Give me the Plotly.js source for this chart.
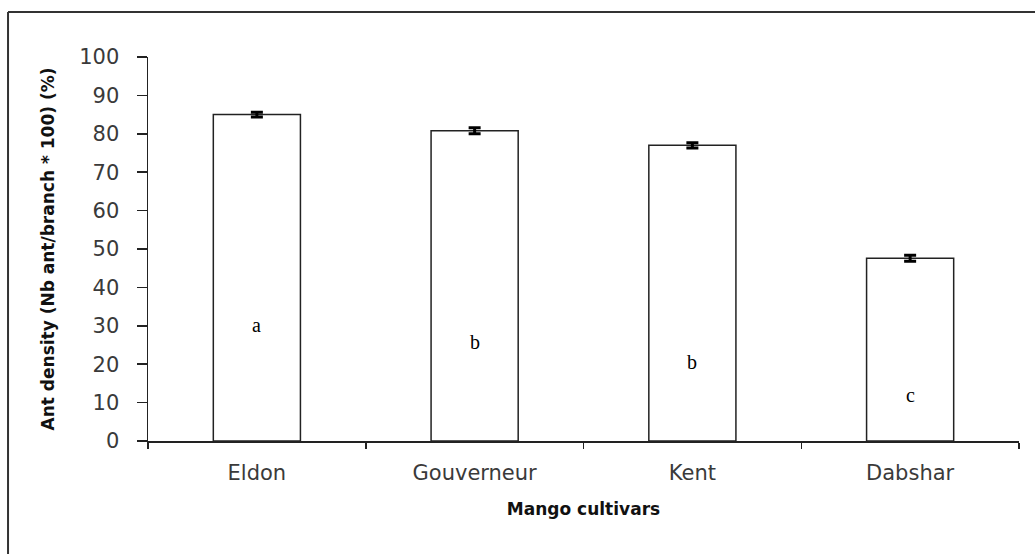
<!DOCTYPE html>
<html>
<head>
<meta charset="utf-8">
<script src="https://cdn.plot.ly/plotly-3.0.1.min.js"></script>
<style>html,body{margin:0;padding:0;background:#fff;}#chart{width:1035px;height:554px;}</style>
</head>
<body>
<div id="chart"></div>
<script>
const cultivars = ["Eldon", "Gouverneur", "Kent", "Dabshar"];
const antDensity = [85.0, 80.8, 77.0, 47.6];
const errors = [0.6, 0.8, 0.7, 0.8];
const letters = ["a", "b", "b", "c"];
const letterY = [30.2, 25.8, 20.6, 12.0];
const yTicks = [0, 10, 20, 30, 40, 50, 60, 70, 80, 90, 100];

const sans = "DejaVu Sans, Verdana, sans-serif";

const trace = {
  type: "bar",
  x: cultivars,
  y: antDensity,
  width: 0.4,
  marker: {color: "#ffffff", line: {color: "#222", width: 1.5}},
  error_y: {type: "data", array: errors, visible: true, color: "#000", thickness: 3, width: 6},
  hoverinfo: "none"
};

const annotations = cultivars.map((c, i) => ({
  x: c, y: letterY[i], xref: "x", yref: "y", text: letters[i], showarrow: false,
  font: {family: "Liberation Serif, Times New Roman, serif", size: 20, color: "#000"}
}));

const layout = {
  width: 1035, height: 554,
  margin: {l: 148, r: 16, t: 57, b: 113},
  paper_bgcolor: "#fff", plot_bgcolor: "#fff",
  showlegend: false,
  xaxis: {
    type: "category",
    showline: true, linecolor: "#222", linewidth: 1.5,
    ticks: "outside", tickson: "boundaries", ticklen: 6, tickcolor: "#222", tickwidth: 1.5,
    ticklabelstandoff: 12,
    showgrid: false, zeroline: false,
    tickfont: {family: sans, size: 21, color: "#3a3a3a"},
    title: {text: "<b>Mango cultivars</b>", font: {family: sans, size: 17, color: "#111"}, standoff: 19}
  },
  yaxis: {
    range: [0, 100], tickvals: yTicks,
    showline: true, linecolor: "#222", linewidth: 1.5,
    ticks: "outside", ticklen: 10, tickcolor: "#222", tickwidth: 1.5,
    ticklabelstandoff: 13,
    showgrid: false, zeroline: false,
    tickfont: {family: sans, size: 21, color: "#3a3a3a"},
    title: {text: "<b>Ant density (Nb ant/branch * 100) (%)</b>", font: {family: sans, size: 17, color: "#111"}, standoff: 20}
  },
  annotations: annotations,
  shapes: [
    {type: "line", xref: "paper", yref: "paper", x0: -0.1607, x1: 1.03, y0: 1.117, y1: 1.117, line: {color: "#333", width: 2}},
    {type: "line", xref: "paper", yref: "paper", x0: -0.1607, x1: -0.1607, y0: 1.117, y1: -0.35, line: {color: "#333", width: 2}}
  ]
};

Plotly.newPlot("chart", [trace], layout, {displayModeBar: false, staticPlot: true});
</script>
</body>
</html>
